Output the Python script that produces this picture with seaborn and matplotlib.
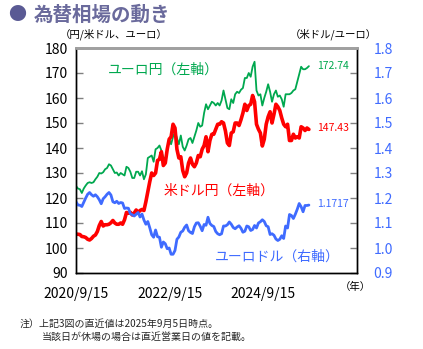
import numpy as np
import pandas as pd
import matplotlib
matplotlib.use("Agg")
import matplotlib.pyplot as plt
import seaborn as sns

# ---- data (semi-monthly, 2020/9/15 .. 2025/9/5) ----
usdjpy = [105.6, 105.5, 105.4, 104.6, 104.5, 104.2, 103.5, 103.2, 103.8, 104.7,
          105.2, 106.6, 109.0, 110.6, 108.8, 109.3, 109.3, 109.5, 110.1, 111.0,
          110.0, 109.5, 109.5, 110.0, 109.5, 111.3, 114.2, 113.9, 114.3, 113.2,
          114.0, 115.2, 114.2, 115.0, 115.4, 115.0, 118.5, 122.5, 126.5, 130.0,
          129.0, 130.0, 135.0, 135.5, 138.5, 133.0, 134.0, 139.5, 143.5, 144.5,
          149.5, 148.0, 139.5, 136.0, 136.5, 131.0, 128.5, 130.0, 134.0, 136.0,
          133.5, 132.5, 134.0, 137.0, 136.5, 139.5, 141.0, 144.5, 138.5, 143.0,
          145.5, 145.5, 147.5, 149.5, 149.5, 150.5, 150.0, 146.8, 142.0, 141.0,
          146.0, 146.5, 150.0, 150.0, 149.0, 151.3, 154.0, 157.5, 155.0, 157.0,
          157.5, 161.0, 158.5, 149.5, 147.5, 146.0, 140.8, 143.5, 149.5, 152.5,
          154.5, 150.0, 153.5, 157.5, 156.5, 155.0, 152.0, 149.5, 148.5, 149.5,
          143.0, 143.0, 145.5, 144.0, 144.5, 144.0, 148.5, 148.0, 147.0, 148.0,
          147.43]

eurjpy = [124.8, 123.8, 123.5, 122.0, 123.8, 125.0, 126.0, 126.3, 126.0, 126.3,
          127.5, 128.5, 130.0, 129.8, 130.3, 131.5, 132.0, 133.5, 133.0, 131.5,
          130.0, 130.2, 129.0, 130.0, 129.5, 129.0, 132.5, 132.0, 130.5, 128.0,
          128.0, 130.5, 130.5, 129.0, 130.7, 127.5, 129.5, 136.0, 136.5, 137.0,
          134.5, 139.5, 140.0, 141.0, 139.0, 136.0, 136.0, 139.0, 143.5, 141.5,
          144.5, 146.5, 144.0, 141.5, 145.0, 140.5, 139.0, 141.0, 143.5, 144.0,
          142.0, 144.5, 147.0, 150.0, 148.5, 149.0, 154.0, 157.5, 155.5, 157.0,
          158.5, 158.0, 157.0, 158.0, 157.0, 159.0, 163.0, 159.5, 156.0, 155.5,
          159.5, 158.0, 161.5, 162.5, 162.0, 163.3, 164.0, 168.0, 168.0, 170.0,
          168.5, 172.5, 174.5, 163.0, 161.0, 161.5, 157.0, 160.0, 162.5, 165.5,
          162.5, 158.5, 161.5, 163.0, 160.5, 161.0, 159.5, 156.5, 161.5, 161.5,
          161.5, 162.0, 163.0, 163.5, 166.5, 169.5, 172.5, 171.5, 171.5, 172.0,
          172.74]

eurusd = [1.185, 1.172, 1.171, 1.166, 1.183, 1.200, 1.215, 1.222, 1.213, 1.207,
          1.213, 1.205, 1.193, 1.177, 1.197, 1.205, 1.215, 1.222, 1.212, 1.185,
          1.181, 1.187, 1.178, 1.182, 1.180, 1.158, 1.160, 1.159, 1.137, 1.133,
          1.128, 1.135, 1.142, 1.124, 1.136, 1.112, 1.095, 1.106, 1.081, 1.053,
          1.043, 1.072, 1.045, 1.043, 1.003, 1.024, 1.017, 0.997, 1.000, 0.975,
          0.975, 0.990, 1.035, 1.044, 1.063, 1.068, 1.083, 1.092, 1.069, 1.062,
          1.058, 1.085, 1.100, 1.101, 1.087, 1.069, 1.094, 1.091, 1.123, 1.098,
          1.090, 1.086, 1.066, 1.057, 1.053, 1.057, 1.088, 1.088, 1.093, 1.104,
          1.095, 1.082, 1.077, 1.084, 1.089, 1.079, 1.063, 1.067, 1.088, 1.085,
          1.070, 1.074, 1.090, 1.080, 1.100, 1.105, 1.113, 1.106, 1.089, 1.085,
          1.054, 1.057, 1.051, 1.036, 1.030, 1.035, 1.049, 1.038, 1.088, 1.080,
          1.134, 1.130, 1.118, 1.135, 1.155, 1.178, 1.165, 1.145, 1.170, 1.170,
          1.1717]

start_date = "2020-09-15"
end_date = "2025-09-05"
year_ticks = ["2020-09-15", "2021-09-15", "2022-09-15", "2023-09-15",
              "2024-09-15", "2025-09-15", "2026-09-15"]
year_labels = ["2020/9/15", "", "2022/9/15", "", "2024/9/15", "", ""]
left_ticks = [90, 100, 110, 120, 130, 140, 150, 160, 170, 180]
right_ticks = [0.9, 1.0, 1.1, 1.2, 1.3, 1.4, 1.5, 1.6, 1.7, 1.8]

dates = pd.date_range(start_date, end_date, periods=len(usdjpy))
df = pd.DataFrame({"date": dates, "usdjpy": usdjpy, "eurjpy": eurjpy, "eurusd": eurusd})

RED = "#ff0000"
GREEN = "#00a84f"
BLUE = "#3f6bff"

sns.set_theme(style="white")
plt.rcParams["font.family"] = ["Noto Sans CJK JP", "DejaVu Sans"]

fig = plt.figure(figsize=(4.23, 3.49), dpi=100)
ax = fig.add_axes([76/423, 1-273/349, (357-76)/423, (273-48)/349])
ax2 = ax.twinx()

sns.lineplot(data=df, x="date", y="eurusd", ax=ax2, color=BLUE, lw=2.0)
sns.lineplot(data=df, x="date", y="eurjpy", ax=ax, color=GREEN, lw=1.3)
sns.lineplot(data=df, x="date", y="usdjpy", ax=ax, color=RED, lw=2.6)

ax.set_ylim(90, 180)
ax2.set_ylim(0.9, 1.8)
xt = pd.to_datetime(year_ticks)
ax.set_xlim(xt[0], xt[-1])
ax.set_xticks(xt)
ax.set_xticklabels(year_labels)
ax.set_yticks(left_ticks)
ax.set_yticklabels([str(v) for v in left_ticks])
ax2.set_yticks(right_ticks)
ax2.set_yticklabels([f"{v:.1f}" for v in right_ticks])
ax.set_xlabel("")
ax.set_ylabel("")
ax2.set_ylabel("")

ax.tick_params(axis="both", direction="in", length=5, width=1, color="#808080",
               labelsize=10, labelcolor="black", pad=6)
ax.tick_params(axis="x", pad=10)
ax2.tick_params(axis="y", direction="in", length=5, width=1, color="#808080",
                labelsize=10, labelcolor=BLUE, pad=12)
for a in (ax, ax2):
    for s in ("left", "bottom", "right"):
        a.spines[s].set_color("black")
        a.spines[s].set_linewidth(1.0)
    a.spines["top"].set_color("#a0a0a0")
    a.spines["top"].set_linewidth(2.0)

# series annotations
ax.text(0.115, 0.885, "ユーロ円（左軸）", transform=ax.transAxes, color=GREEN, fontsize=10)
ax.text(0.31, 0.35, "米ドル円（左軸）", transform=ax.transAxes, color=RED, fontsize=10)
ax.text(0.495, 0.055, "ユーロドル（右軸）", transform=ax.transAxes, color=BLUE, fontsize=10)

ax.annotate(f"{eurjpy[-1]:.2f}", (dates[-1], eurjpy[-1]), xytext=(6, 0),
            textcoords="offset points", color=GREEN, fontsize=7.5, va="center")
ax.annotate(f"{usdjpy[-1]:.2f}", (dates[-1], usdjpy[-1]), xytext=(6, 1),
            textcoords="offset points", color=RED, fontsize=7.5, va="center")
ax2.annotate(f"{eurusd[-1]:.4f}", (dates[-1], eurusd[-1]), xytext=(6, 1),
             textcoords="offset points", color=BLUE, fontsize=7.5, va="center")

# titles & notes
fig.text(8/423, 1-15/349, "●", color="#5a5a94", fontsize=13, va="center")
fig.text(34/423, 1-15/349, "為替相場の動き", color="#6a6a9c", fontsize=14,
         fontweight="bold", va="center")
fig.text(60/423, 1-34/349, "（円/米ドル、ユーロ）", fontsize=7.5, va="center", color="black")
fig.text(290/423, 1-34/349, "（米ドル/ユーロ）", fontsize=7.5, va="center", color="black")
fig.text(340/423, 1-287/349, "（年）", fontsize=7.5, va="center", color="black")
fig.text(20/423, 1-324/349, "注）上記3図の直近値は2025年9月5日時点。", fontsize=7.2, va="center")
fig.text(42/423, 1-337/349, "当該日が休場の場合は直近営業日の値を記載。", fontsize=7.2, va="center")

fig.savefig("out.png", dpi=100)
